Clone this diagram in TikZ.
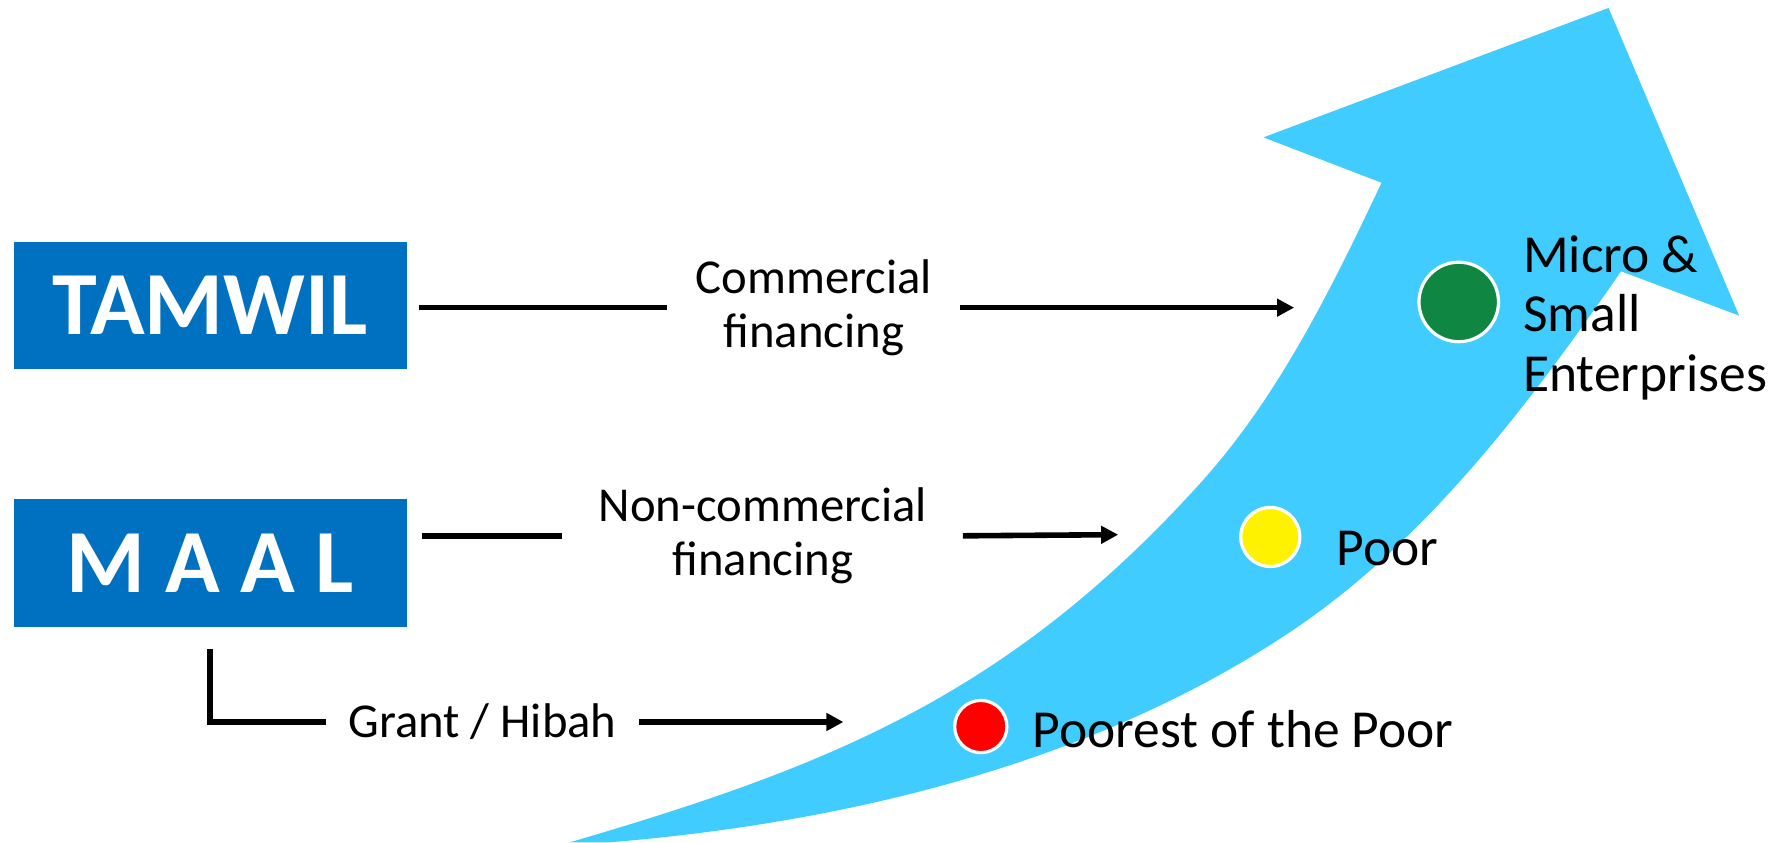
\documentclass[tikz,border=0pt]{standalone}
\usepackage{fontspec}
\setmainfont{Carlito}
\usetikzlibrary{arrows.meta,positioning,calc}
\definecolor{boxblue}{HTML}{0070C0}
\definecolor{arrowblue}{HTML}{41CCFF}
\definecolor{smegreen}{HTML}{0F8743}

\begin{document}
\begin{tikzpicture}[x=0.01cm,y=-0.01cm]
        % Define styles
        \tikzset{
          fund/.style={rectangle, fill=boxblue, minimum width=3.46cm, minimum height=1.12cm, text=white, font=\fontsize{22.6}{24}\selectfont\bfseries},
          flowtext/.style={align=center, inner sep=0pt, font=\fontsize{12.2}{13.7}\selectfont},
          group/.style={align=left, inner sep=0pt, font=\fontsize{13.4}{15}\selectfont},
          target/.style={circle, draw=white, line width=0.8pt, inner sep=0pt},
          link/.style={line width=1.4pt},
          flow/.style={line width=1.4pt, -{Triangle[length=0.15cm,width=0.15cm]}}
        }
        \useasboundingbox (0,0) rectangle (1568,742);

        % Growth arrow
        \fill[arrowblue] (502,742) .. controls (727,676) and (887,614) .. (1057,426)
          .. controls (1126,350) and (1173,254) .. (1217,161)
          -- (1113,121) -- (1417,7) -- (1532,278) -- (1428,239)
          .. controls (1345,359) and (1253,481) .. (1130,561)
          .. controls (957,674) and (743,725) .. (537,742) -- cycle;

        % Funds
        \node (tamwil) [fund] at (185,269) {TAMWIL};
        \node (maal) [fund] at (185,496) {M A A L};

        % Flows
        \node (comm) [flowtext] at (717,271) {Commercial\\financing};
        \node (noncomm) [flowtext] at (672,472) {Non-commercial\\financing};
        \node (grant) [flowtext] at (425,636) {Grant / Hibah};
        \coordinate (commend) at (1140,271);
        \coordinate (noncommend) at (985,471);
        \coordinate (grantend) at (743,636);

        \draw[link] ([xshift=0.10cm]tamwil.east |- comm.west) -- ([xshift=-0.25cm]comm.west);
        \draw[flow] ([xshift=0.24cm]comm.east) -- (commend);
        \draw[link] ([xshift=0.13cm]maal.east |- noncomm.west) -- ([xshift=-0.32cm]noncomm.west);
        \draw[flow] ([xshift=0.31cm]noncomm.east) -- (noncommend);
        \draw[link] ([yshift=-0.19cm]maal.south) -- (maal.south |- grant.west) -- ([xshift=-0.19cm]grant.west);
        \draw[flow] ([xshift=0.19cm]grant.east) -- (grantend);

        % Target groups
        \node (sme) [target, fill=smegreen, minimum size=0.70cm] at (1285,266) {};
        \node (poor) [target, fill=yellow, minimum size=0.52cm] at (1119,473) {};
        \node (poorest) [target, fill=red, minimum size=0.46cm] at (864,640) {};
        \node (smetext) [group, anchor=west] at (1341,280) {Micro \&\\Small\\Enterprises};
        \node (poortext) [group, anchor=west] at (1177,483) {Poor};
        \node (poorestext) [group, anchor=west] at (909,642) {Poorest of the Poor};

    \end{tikzpicture}
\end{document}
